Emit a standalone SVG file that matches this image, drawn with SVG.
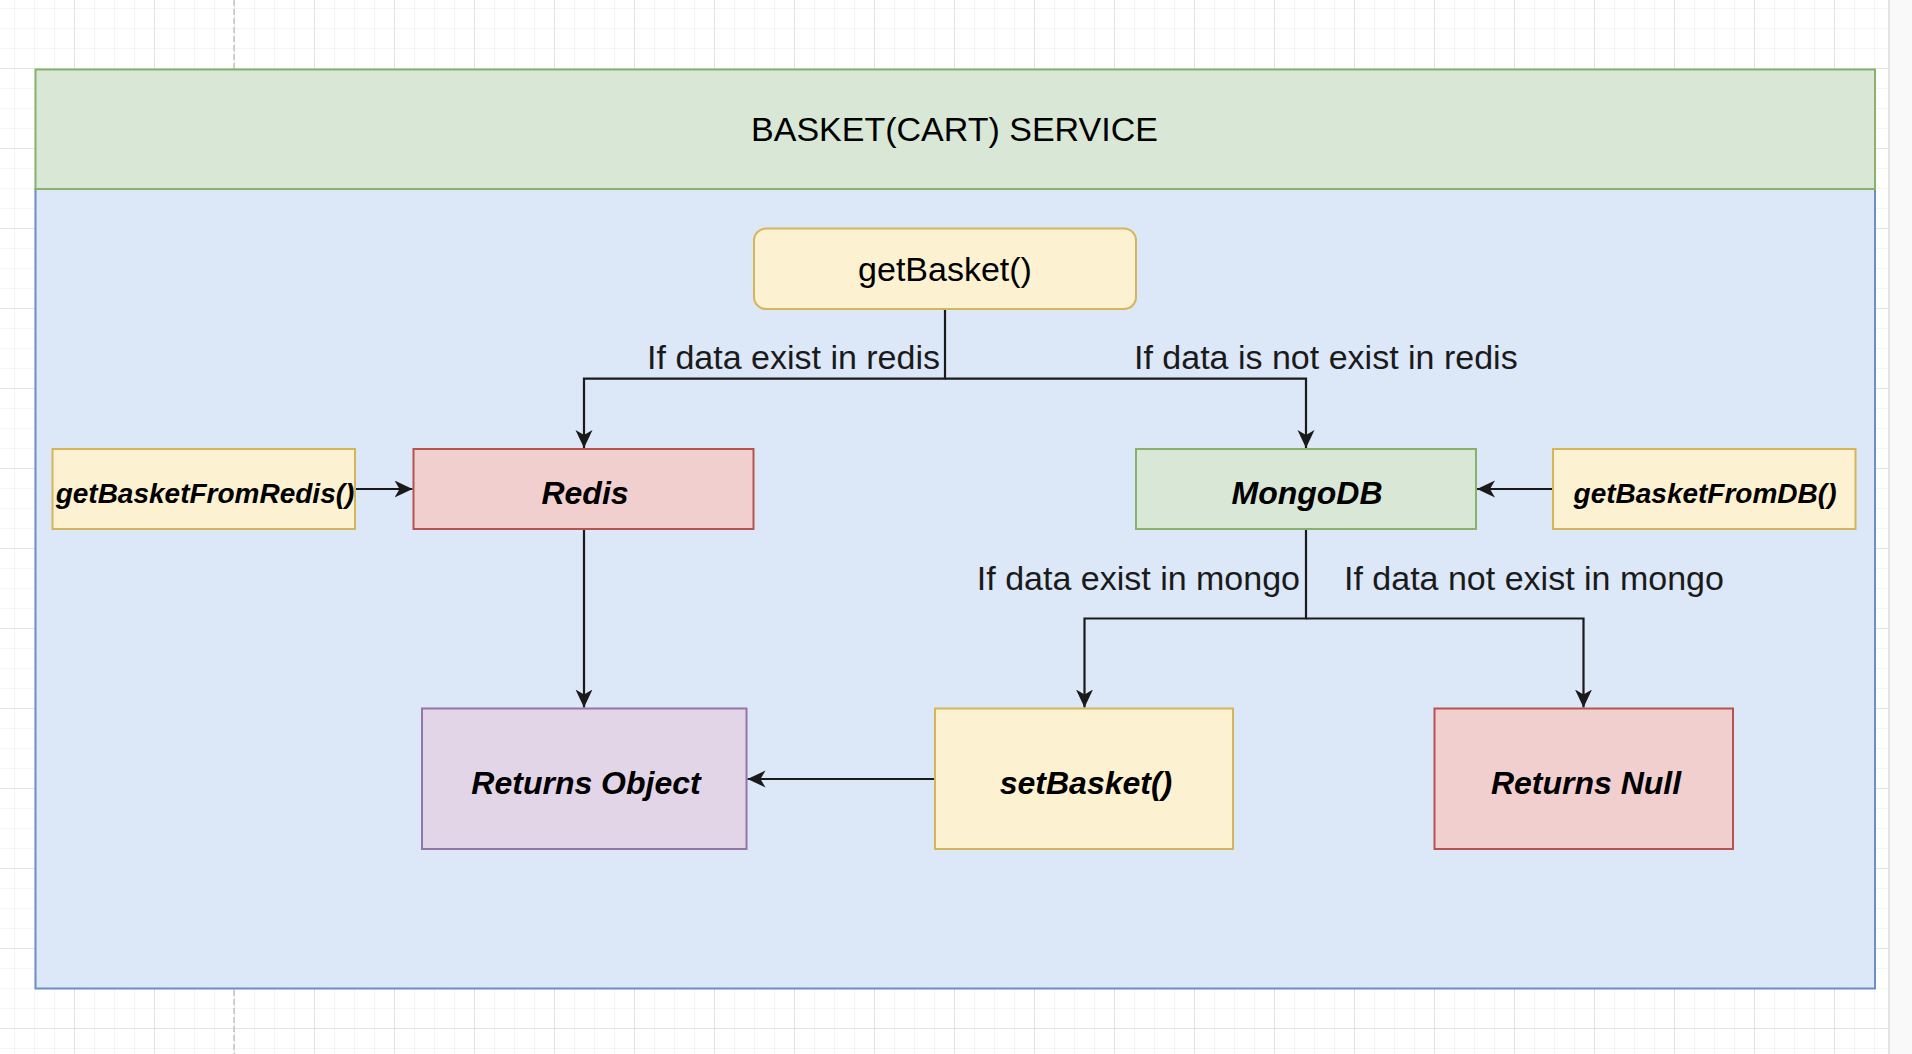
<svg xmlns="http://www.w3.org/2000/svg" width="1912" height="1054" viewBox="0 0 1912 1054">
  <defs>
    <style>
      .lbl { font-family: "Liberation Sans", Arial, Helvetica, sans-serif; font-size: 34px; fill: #1a1a1a; }
      .node-text { font-family: "Liberation Sans", Arial, Helvetica, sans-serif; font-size: 32px; font-weight: bold; font-style: italic; fill: #000000; text-anchor: middle; }
      .small { font-size: 28px; }
      .conn { fill: none; stroke: #1a1a1a; stroke-width: 2.2; }
      .yellow { fill: #fcf1d0; stroke: #d5b55a; stroke-width: 2; }
      .red { fill: #f2cfcf; stroke: #b5544f; stroke-width: 2; }
      .green { fill: #d9e7d6; stroke: #88b26c; stroke-width: 2; }
      .purple { fill: #e1d5e7; stroke: #9475a7; stroke-width: 2; }
      .blue { fill: #dce7f8; stroke: #6f8ec0; stroke-width: 2; }
    </style>
    <pattern id="minor" patternUnits="userSpaceOnUse" x="14" y="8" width="20" height="20">
      <path d="M0,0 V20 M0,0 H20" fill="none" stroke="#f1f1f1" stroke-width="1.5"/>
    </pattern>
    <pattern id="major" patternUnits="userSpaceOnUse" x="74" y="68" width="80" height="80">
      <path d="M0,0 V80 M0,0 H80" fill="none" stroke="#d2d2d2" stroke-width="1"/>
    </pattern>
    <marker id="arrow" markerUnits="userSpaceOnUse" markerWidth="20" markerHeight="20" refX="18" refY="8.5" orient="auto">
      <path d="M0,0 L18,8.5 L0,17 L5,8.5 Z" fill="#1a1a1a"/>
    </marker>
  </defs>

  <g id="background">
    <rect x="0" y="0" width="1912" height="1054" fill="#ffffff"/>
    <rect x="0" y="0" width="1888" height="1054" fill="url(#minor)"/>
    <rect x="0" y="0" width="1888" height="1054" fill="url(#major)"/>
    <rect x="1888" y="0" width="24" height="1054" fill="#f9f9f9"/>
    <line x1="1889" y1="0" x2="1889" y2="1054" stroke="#e4e4e4" stroke-width="2"/>
    <line x1="234" y1="0" x2="234" y2="1054" stroke="#c4c4c4" stroke-width="1.5" stroke-dasharray="6 3"/>
  </g>

  <g id="container">
    <rect class="blue" x="35.5" y="189" width="1839.5" height="799.5"/>
    <rect class="green" x="35.5" y="69.5" width="1839.5" height="119.5"/>
    <text class="lbl" x="954.5" y="141" text-anchor="middle" style="fill:#000000">BASKET(CART) SERVICE</text>
  </g>

  <g id="connectors">
    <path class="conn" d="M945,309.5 V378.7 H584 V448" marker-end="url(#arrow)"/>
    <path class="conn" d="M945,378.7 H1306 V448" marker-end="url(#arrow)"/>
    <path class="conn" d="M355,489 H412.5" marker-end="url(#arrow)"/>
    <path class="conn" d="M584,529 V707.5" marker-end="url(#arrow)"/>
    <path class="conn" d="M1553,489 H1477" marker-end="url(#arrow)"/>
    <path class="conn" d="M1306,529 V618.5 H1084.5 V707.5" marker-end="url(#arrow)"/>
    <path class="conn" d="M1306,618.5 H1583.5 V707.5" marker-end="url(#arrow)"/>
    <path class="conn" d="M935,779 H747.5" marker-end="url(#arrow)"/>
    <text class="lbl" x="940" y="369" text-anchor="end">If data exist in redis</text>
    <text class="lbl" x="1134" y="369">If data is not exist in redis</text>
    <text class="lbl" x="1300" y="590" text-anchor="end">If data exist in mongo</text>
    <text class="lbl" x="1344" y="590">If data not exist in mongo</text>
  </g>

  <g id="getBasket">
    <rect class="yellow" x="754" y="228.5" width="382" height="80.5" rx="12" ry="12"/>
    <text class="lbl" x="945" y="281" text-anchor="middle" style="fill:#000000">getBasket()</text>
  </g>

  <g id="getBasketFromRedis">
    <rect class="yellow" x="52.5" y="449" width="302.5" height="80"/>
    <text class="node-text small" x="205" y="503">getBasketFromRedis()</text>
  </g>

  <g id="redis">
    <rect class="red" x="413.5" y="449" width="340" height="80"/>
    <text class="node-text" x="585" y="504">Redis</text>
  </g>

  <g id="mongodb">
    <rect class="green" x="1136" y="449" width="340" height="80"/>
    <text class="node-text" x="1307" y="504">MongoDB</text>
  </g>

  <g id="getBasketFromDB">
    <rect class="yellow" x="1553" y="449" width="302.5" height="80"/>
    <text class="node-text small" x="1705" y="503">getBasketFromDB()</text>
  </g>

  <g id="returnsObject">
    <rect class="purple" x="422" y="708.5" width="324.5" height="140.5"/>
    <text class="node-text" x="586" y="794">Returns Object</text>
  </g>

  <g id="setBasket">
    <rect class="yellow" x="935" y="708.5" width="298" height="140.5"/>
    <text class="node-text" x="1086" y="794">setBasket()</text>
  </g>

  <g id="returnsNull">
    <rect class="red" x="1434.5" y="708.5" width="298.5" height="140.5"/>
    <text class="node-text" x="1586" y="794">Returns Null</text>
  </g>
</svg>
